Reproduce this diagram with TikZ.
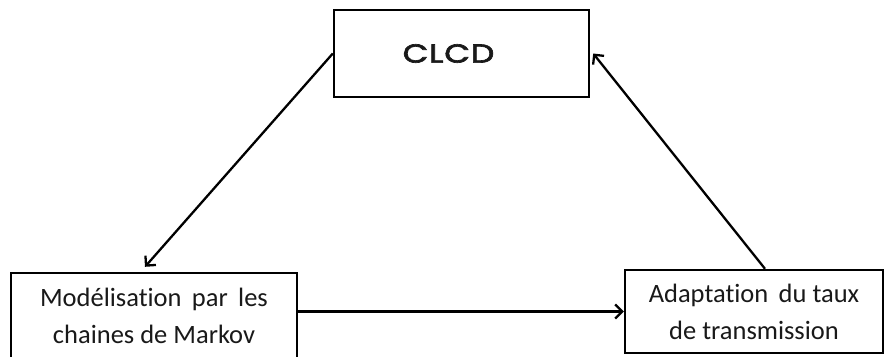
\documentclass[tikz,border=0pt]{standalone}
\usepackage{fontspec}
\setmainfont{Carlito}[RawFeature=-liga]
\newfontfamily\titlefont{Poppins}[FakeStretch=1.28,LetterSpace=3,FakeBold=2.5]
\usetikzlibrary{arrows.meta,calc}
\begin{document}
\begin{tikzpicture}[x=1pt,y=-1pt,
  box/.style={draw=black, line width=2.4pt, inner sep=0pt, align=center,
    font=\fontsize{26.5}{37}\selectfont, text=black!90},
  link/.style={line width=2.3pt, -{Straight Barb[length=7pt,width=14pt,line width=2.3pt]}}]
  \useasboundingbox[fill=white] (0,0) rectangle (888,356);
  % the three blocks
  \node[box, minimum width=255pt, minimum height=87pt] (clcd) at (461.5,53.5)
    {\hspace*{-26pt}\titlefont\fontsize{26}{30}\selectfont CLCD};
  \node[box, minimum width=286pt, minimum height=86pt] (model) at (154,316)
    {Modélisation\, par\, les\\chaines de Markov};
  \node[box, minimum width=258pt, minimum height=83pt] (adapt) at (754,311.5)
    {Adaptation\, du taux\\de transmission};
  % cycle of arrows
  \draw[link] (clcd.west) -- ([xshift=-9pt,yshift=5pt]model.north);
  \draw[link] (model.east |- adapt.west) -- (adapt.west);
  \draw[link] ([xshift=11pt]adapt.north) -- ([xshift=3pt]clcd.east);
\end{tikzpicture}
\end{document}
